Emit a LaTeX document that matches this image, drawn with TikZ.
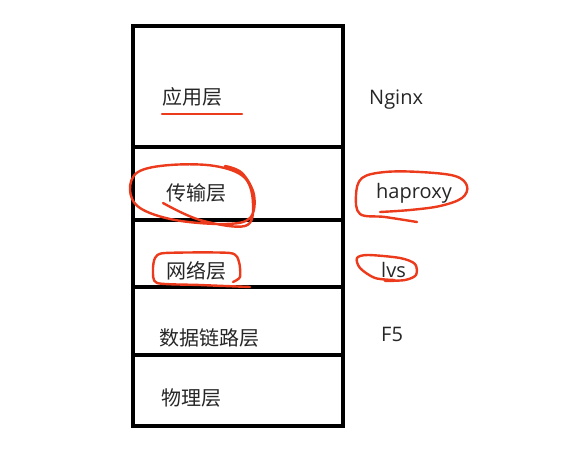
\documentclass[tikz,border=0pt]{standalone}
\usepackage{fontspec}
\setmainfont{Open Sans}
\newfontfamily\cjk{Noto Sans CJK SC}
\definecolor{markred}{RGB}{236,58,28}
\begin{document}
\begin{tikzpicture}[
  x=1pt, y=-1pt,
  layer edge/.style={line width=3.8pt, black},
  layer text/.style={anchor=base west, inner sep=0pt, font=\cjk\fontsize{20}{24}\selectfont, text=black!85},
  proto text/.style={anchor=base west, inner sep=0pt, font=\fontsize{20}{24}\selectfont, text=black!85},
  hand mark/.style={markred, line width=2.4pt, line cap=round, line join=round}
]
  \useasboundingbox (0,0) rectangle (564,450);

  % Stack of layers
  \draw[layer edge] (133,26) rectangle (343,426);
  \draw[layer edge] (133,147) -- (343,147);
  \draw[layer edge] (133,220) -- (345,220);
  \draw[layer edge] (133,287) -- (343,287);
  \draw[layer edge] (133,355) -- (343,355);

  % Layer names
  \node[layer text] (app) at (162,104) {应用层};
  \node[layer text] (trans) at (166,200) {传输层};
  \node[layer text] (net) at (166,278) {网络层};
  \node[layer text] (link) at (159,345) {数据链路层};
  \node[layer text] (phy) at (161,405) {物理层};

  % Balancers per layer
  \node[proto text] (nginx) at (369,104) {Nginx};
  \node[proto text] (haproxy) at (376,198) {haproxy};
  \node[proto text] (lvs) at (381,277) {lvs};
  \node[proto text] (ffive) at (381,341) {F5};

  % Hand drawn marks
  \draw[hand mark] (162,114) -- (242,114);

  \draw[hand mark] plot[smooth, tension=0.6] coordinates {
    (163,203) (200,220) (245,226) (253,205) (245,178) (215,166) (170,165)
    (138,172) (130,190) (140,208) (175,220) (225,224) (250,218) (254,195)
    (242,173) (225,166)};

  \draw[hand mark] plot[smooth, tension=0.6] coordinates {
    (417,222) (385,217) (360,214) (356,195) (362,178) (385,172) (420,172)
    (455,176) (467,186) (462,198) (440,206) (410,210) (380,212)};

  \draw[hand mark] plot[smooth, tension=0.4] coordinates {
    (250,287) (200,285) (157,283) (153,270) (155,258) (165,253) (230,253)
    (239,262) (240,277) (233,282)};

  \draw[hand mark] plot[smooth, tension=0.5] coordinates {
    (395,280) (375,278) (360,268) (357,258) (368,255) (400,258) (415,264)
    (416,275) (405,280) (385,281)};

\end{tikzpicture}
\end{document}
